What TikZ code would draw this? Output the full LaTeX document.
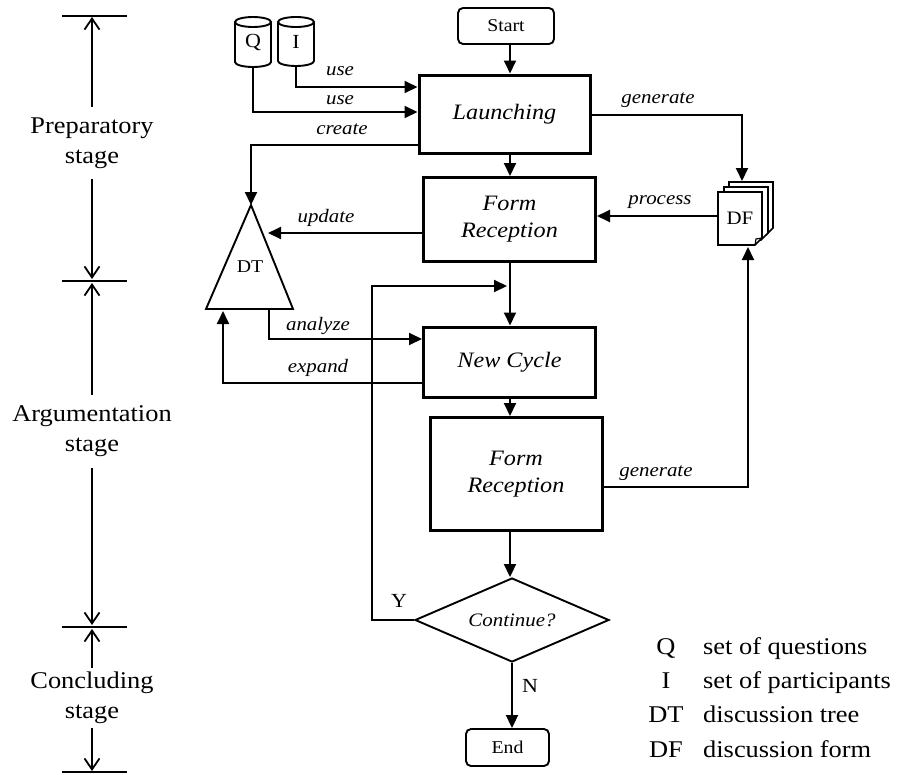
\documentclass[tikz,border=0pt]{standalone}
\usepackage{fontspec}
\setmainfont{Liberation Serif}[FakeStretch=1.1]
\usetikzlibrary{arrows.meta,shapes.geometric}
\newcommand\fsz[2]{\fontsize{#1}{#2}\selectfont}

\begin{document}
\begin{tikzpicture}[x=1pt,y=1pt,
  conn/.style={line width=1.9pt},
  arr/.style={conn,-{Triangle[length=13pt,width=12pt]}},
  proc/.style={draw,line width=3pt,rectangle,minimum width=172pt,inner sep=0pt,align=center,font=\fsz{22}{27}\itshape},
  term/.style={draw,line width=1.9pt,rounded corners=5pt,inner sep=0pt,font=\fsz{18}{22}},
  lab/.style={font=\fsz{19}{23}\itshape,inner sep=0pt},
  yn/.style={font=\fsz{20}{24},inner sep=0pt},
  stagelab/.style={align=center,font=\fsz{24}{30},inner sep=0pt},
  stagearr/.style={line width=1.8pt,-{Straight Barb[length=11pt,width=15pt]}},
  legk/.style={font=\fsz{24}{28},inner sep=0pt,anchor=base},
  legd/.style={font=\fsz{24}{28},inner sep=0pt,anchor=base west},
  store/.style={line width=1.9pt},
  page/.style={line width=1.6pt,fill=white},
]
\useasboundingbox (0,0) rectangle (897,-774);

% ---------- stage scale on the left ----------
\coordinate (t1) at (92,-16);
\coordinate (t2) at (92,-281);
\coordinate (t3) at (92,-627);
\coordinate (t4) at (92,-772);
\foreach \t in {t1,t2,t3,t4}
  \draw[line width=1.9pt] ([xshift=-30pt]\t) -- ([xshift=35pt]\t);

\node[stagelab,minimum height=72pt] (prep) at (92,-143) {Preparatory\\stage};
\node[stagelab,minimum height=73pt] (argu) at (92,-431.5) {Argumentation\\stage};
\node[stagelab,minimum height=60pt] (conc) at (92,-698) {Concluding\\stage};

\draw[stagearr] (prep.north) -- ([yshift=-1pt]t1);
\draw[stagearr] (prep.south) -- ([yshift=2pt]t2);
\draw[stagearr] (argu.north) -- ([yshift=-2pt]t2);
\draw[stagearr] (argu.south) -- ([yshift=2pt]t3);
\draw[stagearr] (conc.north) -- ([yshift=-2pt]t3);
\draw[stagearr] (conc.south) -- ([yshift=1pt]t4);

% ---------- main flow ----------
\coordinate (colx) at (510,0);

\node[term,minimum width=96pt,minimum height=36pt] (start) at (506,-26) {Start};
\node[proc,minimum width=171pt,minimum height=78pt] (launch) at (504.5,-114) {Launching};
\node[proc,minimum height=84pt] (fr1) at (509.5,-219.5) {Form\\Reception};
\node[proc,minimum height=70pt] (nc) at (509.5,-362) {New Cycle};
\node[proc,minimum height=113pt] (fr2) at (516,-474) {Form\\Reception};
\node[draw,diamond,line width=1.9pt,aspect=2.3,inner sep=0pt,minimum width=194pt,minimum height=84pt,font=\fsz{19}{23}\itshape] (cont) at (512,-620) {Continue?};
\node[term,minimum width=83pt,minimum height=37pt] (end) at (507.5,-747.5) {End};

% data stores Q and I
\draw[store] (235,-22) -- (235,-62) arc[start angle=180,end angle=360,x radius=18,y radius=5] -- (271,-22);
\draw[store] (253,-22) ellipse[x radius=18,y radius=5];
\draw[store] (278,-22) -- (278,-61) arc[start angle=180,end angle=360,x radius=18,y radius=5] -- (314,-22);
\draw[store] (296,-22) ellipse[x radius=18,y radius=5];
\node[minimum width=36pt,minimum height=50pt,inner sep=0pt,font=\fsz{20}{24}] (q) at (253,-42) {\raisebox{-6pt}{Q}};
\node[minimum width=36pt,minimum height=49pt,inner sep=0pt,font=\fsz{20}{24}] (i) at (296,-41.5) {\raisebox{-6pt}{I}};

% discussion tree
\coordinate (dttop) at (251,-205);
\draw[line width=1.9pt] (dttop) -- (293,-309) -- (206,-309) -- cycle;
\node[font=\fsz{18}{22},inner sep=0pt] (dt) at (250,-267) {DT};
\coordinate (dtupd) at (268,-233);
\coordinate (dtan) at (269,-309);
\coordinate (dtex) at (223,-311);

% discussion forms (stack of pages)
\draw[page] (729,-182) -- (773,-182) -- (773,-228) -- (766,-235) -- (729,-235) -- cycle;
\draw[page] (724,-187) -- (768,-187) -- (768,-233) -- (761,-240) -- (724,-240) -- cycle;
\draw[page] (718,-192) -- (762,-192) -- (762,-238) -- (755,-245) -- (718,-245) -- cycle;
\draw[line width=1.2pt] (755,-245) -- (756,-239) -- (762,-238);
\node[minimum width=44pt,minimum height=53pt,inner sep=0pt,font=\fsz{19}{23}] (df) at (740,-218.5) {DF};
\coordinate (dfin) at (742,-181);
\coordinate (dfout) at (748,-247);
\coordinate (dfproc) at (718,-216);

% ---------- connectors ----------
\draw[arr] (start.south -| colx) -- (launch.north -| colx);
\draw[arr] (i.south) |- ([yshift=27pt]launch.west);
\draw[arr] (q.south) |- ([yshift=2pt]launch.west);
\draw[arr] ([yshift=-31pt]launch.west) -| (dttop);
\draw[arr] (launch.south -| colx) -- (fr1.north -| colx);
\draw[arr] ([yshift=-1pt]launch.east) -| (dfin);
\draw[arr] (dfproc) -- (fr1.east |- dfproc);
\draw[arr] ([yshift=-13.5pt]fr1.west) -- (dtupd);
\draw[arr] (fr1.south -| colx) -- (nc.north -| colx);
\draw[arr] (dtan) |- ([yshift=23pt]nc.west);
\draw[arr] ([yshift=-21pt]nc.west) -| (dtex);
\draw[arr] (nc.south -| colx) -- (fr2.north -| colx);
\draw[arr] ([yshift=-13pt]fr2.east) -| (dfout);
\draw[arr] (fr2.south -| colx) -- (cont.north -| colx);
\draw[arr] (cont.south) -- (end.north -| cont.south);
\coordinate (loopc) at (372,-286);
\coordinate (loopin) at (507,-286);
\draw[arr] (cont.west) -| (loopc) -- (loopin);

% ---------- connector labels ----------
\node[lab] (l1) at (340,-71) {use};
\node[lab] (l2) at (340,-100) {use};
\node[lab] (l3) at (342,-129) {create};
\node[lab] (l4) at (658,-100) {generate};
\node[lab] (l5) at (326,-218) {update};
\node[lab] (l6) at (660,-202) {process};
\node[lab] (l7) at (318,-326) {analyze};
\node[lab] (l8) at (318,-368) {expand};
\node[lab] (l9) at (656,-473) {generate};
\node[yn] (ly) at (399,-601) {Y};
\node[yn] (ln) at (530,-686) {N};

% ---------- legend ----------
\node[legk] (kq) at (666,-654) {Q};
\node[legd] (dq) at (703,-654) {set of questions};
\node[legk] (ki) at (666,-688) {I};
\node[legd] (di) at (703,-688) {set of participants};
\node[legk] (kt) at (666,-722) {DT};
\node[legd] (dtt) at (703,-722) {discussion tree};
\node[legk] (kf) at (666,-757) {DF};
\node[legd] (dff) at (703,-757) {discussion form};
\end{tikzpicture}
\end{document}
